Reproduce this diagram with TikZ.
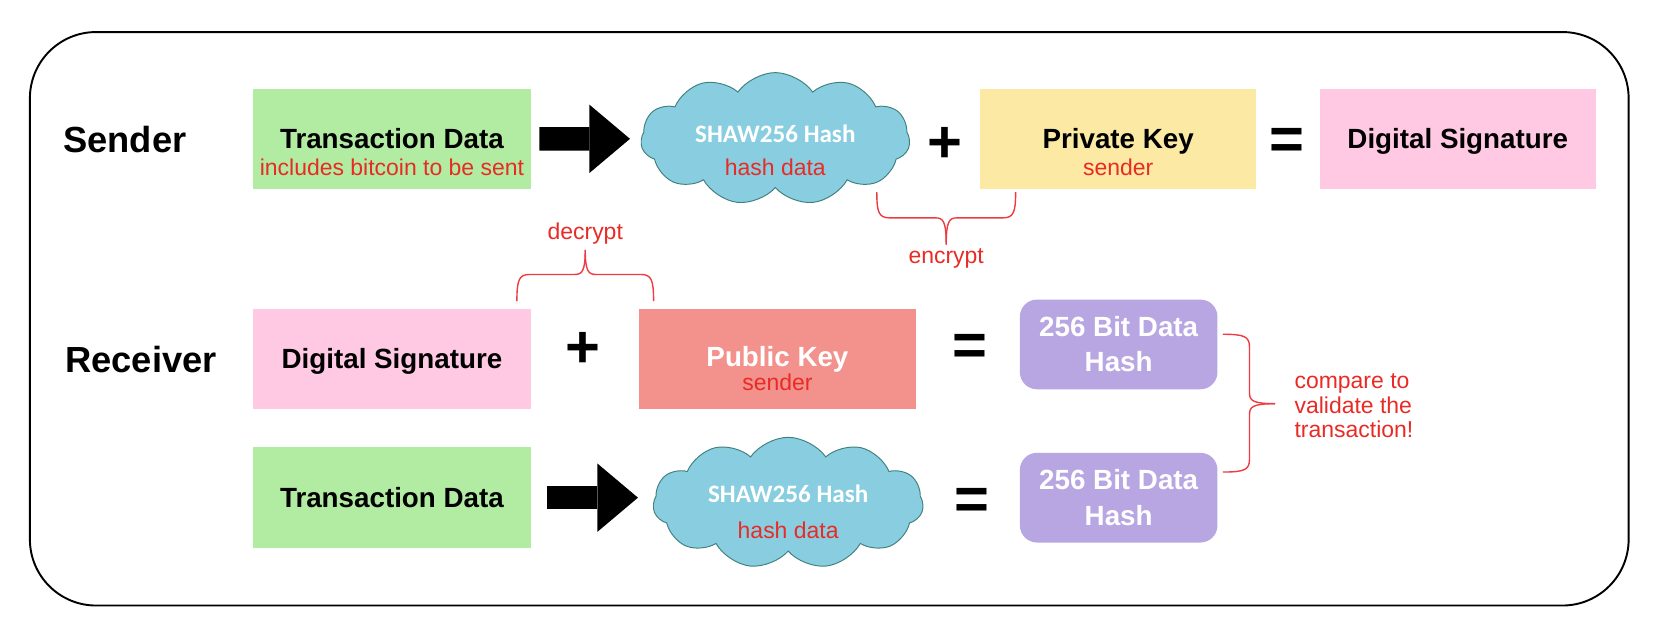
\documentclass[tikz,border=0pt]{standalone}
\usepackage{fontspec}
\setmainfont{Liberation Sans}
\newfontfamily\calib{Carlito}
\usetikzlibrary{shapes.symbols,arrows.meta,calc}
\definecolor{bgreen}{HTML}{B2EBA2}
\definecolor{bpink}{HTML}{FFC8E3}
\definecolor{byellow}{HTML}{FCE9A4}
\definecolor{bsalmon}{HTML}{F3928D}
\definecolor{blav}{HTML}{B8A6E3}
\definecolor{cloudfill}{HTML}{88CEE0}
\definecolor{cloudline}{HTML}{41807F}
\definecolor{redtxt}{HTML}{E82B25}
\definecolor{bracered}{HTML}{EE3A40}
\begin{document}
\begin{tikzpicture}[x=1pt,y=-1pt,
  box/.style={minimum width=260pt,minimum height=94pt,inner sep=0pt,outer sep=0pt,draw=none},
  hashbox/.style={fill=blav,rounded corners=16pt,minimum width=185pt,minimum height=84pt,inner sep=0pt,
    align=center,text=white,font=\fontsize{26}{33}\selectfont\bfseries},
  main/.style={font=\fontsize{26}{30}\selectfont\bfseries,anchor=base,inner sep=0pt},
  sub/.style={font=\fontsize{21.5}{23}\selectfont,text=redtxt,anchor=base,inner sep=0pt},
  rowlab/.style={font=\fontsize{34}{38}\selectfont\bfseries,anchor=base,inner sep=0pt},
  bigop/.style={font=\fontsize{56}{56}\selectfont\bfseries,inner sep=0pt},
  hashcloud/.style={cloud,cloud puffs=11,cloud puff arc=110,aspect=2,draw=cloudline,fill=cloudfill,
    line width=0.9pt,inner sep=0pt,minimum width=252pt,minimum height=124pt},
  cloudtxt/.style={font=\fontsize{23.5}{26}\selectfont\calib\bfseries,text=white,anchor=base,inner sep=0pt},
  bigarrow/.style={line width=22pt,-{Triangle[length=38pt,width=64pt,line width=0pt]}},
  bracesty/.style={draw=bracered,line width=1.3pt}]
\useasboundingbox (0,0) rectangle (1560,591.8);
% frame
\node[draw=black,line width=1.8pt,rounded corners=62pt,minimum width=1497pt,minimum height=537pt,inner sep=0pt] (frame) at (776.5,298.5) {};
% row labels
\node[rowlab] (sender) at (117,143) {Sender};
\node[rowlab] (receiver) at (132,349) {Receiver};
% sender row
\node[box,fill=bgreen] (td1) at (367,130) {};
\node[main] (td1t) at (367,139) {Transaction Data};
\node[sub] (td1s) at (367,164) {includes bitcoin to be sent};
\node[hashcloud] (c1) at (726,130) {};
\node[cloudtxt] (c1t) at (726,133.5) {SHAW256 Hash};
\node[sub] (c1s) at (726,164) {hash data};
\node[bigop] (plus1) at (885,136) {+};
\node[box,fill=byellow,minimum width=258pt] (pk) at (1047,130) {};
\node[main] (pkt) at (1047,139) {Private Key};
\node[sub] (pks) at (1047,164) {sender};
\node[bigop] (eq1) at (1205,135) {=};
\node[box,fill=bpink,minimum width=258pt] (ds1) at (1365,130) {};
\node[main] (ds1t) at (1365,139) {Digital Signature};
\draw[bigarrow,shorten <=8pt,shorten >=10pt] (td1.east) -- (c1.west);
% receiver row 1
\node[box,fill=bpink] (ds2) at (367,336) {};
\node[main] (ds2t) at (367,345) {Digital Signature};
\node[bigop] (plus2) at (546,328) {+};
\node[box,fill=bsalmon] (pub) at (728,336) {};
\node[main,text=white] (pubt) at (728,343) {Public Key};
\node[sub] (pubs) at (728,366) {sender};
\node[bigop] (eq2) at (908,328) {=};
\node[hashbox] (h1) at (1047.5,322.5) {256 Bit Data\\Hash};
% receiver row 2
\node[box,fill=bgreen] (td2) at (367,466) {};
\node[main] (td2t) at (367,475) {Transaction Data};
\node[hashcloud,minimum width=253pt,minimum height=123pt] (c2) at (738,471) {};
\node[cloudtxt] (c2t) at (738,470.5) {SHAW256 Hash};
\node[sub] (c2s) at (738,504) {hash data};
\node[bigop] (eq3) at (910,472) {=};
\node[hashbox] (h2) at (1047.5,466) {256 Bit Data\\Hash};
\draw[bigarrow,shorten <=15pt,shorten >=14pt] (td2.east) -- (td2.east -| c2.west);
% braces
\coordinate (encL) at (821,180);
\coordinate (encR) at (951,180);
\coordinate (encT) at (886,229);
\draw[bracesty] (encL) .. controls (821,199) and (823,204) .. (833,204) -- (876,204)
  .. controls (883,204) and (886,207) .. (encT);
\draw[bracesty] (encR) .. controls (951,199) and (949,204) .. (939,204) -- (896,204)
  .. controls (889,204) and (886,207) .. (encT);
\node[sub] (enc) at (886,247) {encrypt};
\coordinate (decL) at (484,282);
\coordinate (decR) at (612,282);
\coordinate (decT) at (548,234);
\draw[bracesty] (decL) .. controls (484,262) and (486,257) .. (496,257) -- (538,257)
  .. controls (545,257) and (548,254) .. (decT);
\draw[bracesty] (decR) .. controls (612,262) and (610,257) .. (600,257) -- (558,257)
  .. controls (551,257) and (548,254) .. (decT);
\node[sub] (dec) at (548,224) {decrypt};
\coordinate (cmpT) at (1145,313);
\coordinate (cmpB) at (1145,442);
\coordinate (cmpP) at (1194,378);
\draw[bracesty] (cmpT) .. controls (1165,313) and (1170,315) .. (1170,325) -- (1170,368)
  .. controls (1170,375) and (1173,378) .. (cmpP);
\draw[bracesty] (cmpB) .. controls (1165,442) and (1170,440) .. (1170,430) -- (1170,388)
  .. controls (1170,381) and (1173,378) .. (cmpP);
\node[sub,anchor=west,align=left] (cmp) at (1212,380) {compare to\\validate the\\transaction!};
\end{tikzpicture}
\end{document}
